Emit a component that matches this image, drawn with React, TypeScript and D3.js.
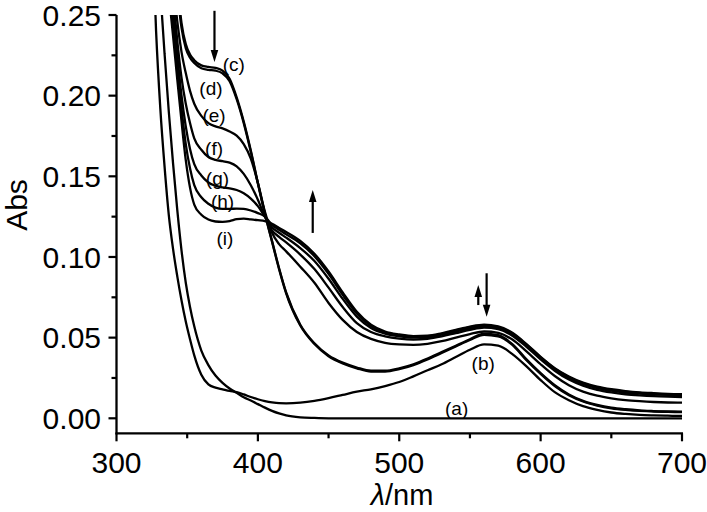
import React from 'react';
import * as d3 from 'd3';

const wavelengths = [325,328,331,334,337,340,343,346,349,352,355,360,365,370,375,380,385,390,395,400,405,410,415,420,430,440,450,460,470,480,490,500,510,520,530,540,550,560,570,580,590,600,610,620,630,640,650,660,670,680,690,700];

const seriesA = [0.36,0.31,0.265,0.226,0.19,0.158,0.129,0.104,0.084,0.069,0.057,0.042,0.033,0.0265,0.022,0.0185,0.0158,0.013,0.011,0.0088,0.0066,0.0046,0.003,0.0018,0.0006,0.0002,0,0,0,0,0,0,0,0,0,0,0,0,0,0,0,0,0,0,0,0,0,0,0,0,0,0];
const seriesB = [0.31,0.24,0.192,0.156,0.126,0.105,0.088,0.073,0.06,0.049,0.039,0.027,0.021,0.019,0.018,0.017,0.0162,0.0148,0.0132,0.0118,0.0107,0.0099,0.0094,0.0093,0.0097,0.0108,0.0125,0.0145,0.0165,0.018,0.02,0.0225,0.026,0.0298,0.0335,0.038,0.0425,0.0458,0.045,0.0398,0.0322,0.0237,0.0162,0.0112,0.0075,0.0052,0.0036,0.0027,0.0021,0.0018,0.0016,0.0015];
const seriesC = [0.5,0.45,0.4,0.36,0.33,0.3,0.27,0.245,0.232,0.2255,0.222,0.2188,0.2178,0.2172,0.2155,0.2105,0.199,0.184,0.166,0.146,0.127,0.11,0.093,0.078,0.058,0.0465,0.039,0.0345,0.0315,0.0295,0.0295,0.031,0.0335,0.037,0.041,0.045,0.049,0.0525,0.0515,0.046,0.0365,0.028,0.0205,0.0148,0.0108,0.0083,0.0066,0.0056,0.0049,0.0045,0.0042,0.0041];
const seriesD = [0.5,0.45,0.4,0.355,0.325,0.295,0.265,0.242,0.2295,0.2235,0.2203,0.217,0.216,0.2155,0.2138,0.209,0.1978,0.183,0.1652,0.1455,0.1265,0.1095,0.0925,0.0775,0.0575,0.046,0.0385,0.034,0.031,0.029,0.029,0.0305,0.033,0.0365,0.0405,0.0445,0.0485,0.0518,0.0508,0.0455,0.036,0.0275,0.02,0.0143,0.0104,0.0079,0.0062,0.0052,0.0046,0.0042,0.004,0.0038];
const seriesE = [0.45,0.4,0.36,0.33,0.3,0.272,0.246,0.227,0.214,0.203,0.195,0.1875,0.183,0.181,0.1797,0.1778,0.1752,0.17,0.161,0.146,0.128,0.115,0.108,0.1035,0.094,0.084,0.0715,0.061,0.0535,0.0492,0.0468,0.0458,0.0455,0.0462,0.0478,0.05,0.0522,0.0538,0.053,0.0488,0.0415,0.0335,0.0262,0.0205,0.0165,0.014,0.0124,0.0113,0.0106,0.0101,0.0098,0.0097];
const seriesF = [0.44,0.39,0.35,0.32,0.29,0.262,0.234,0.211,0.195,0.183,0.1735,0.1665,0.162,0.1602,0.1594,0.1585,0.1562,0.1515,0.1445,0.1355,0.125,0.1165,0.1125,0.109,0.1015,0.0925,0.081,0.069,0.059,0.0535,0.0508,0.0494,0.0488,0.0493,0.0508,0.0528,0.0548,0.0562,0.0553,0.0512,0.0443,0.0365,0.0295,0.024,0.0202,0.0176,0.016,0.0149,0.0142,0.0137,0.0134,0.0132];
const seriesG = [0.43,0.38,0.34,0.31,0.28,0.253,0.225,0.2,0.181,0.167,0.1575,0.1505,0.1462,0.1442,0.1432,0.1425,0.1415,0.1395,0.1362,0.1315,0.125,0.1185,0.115,0.112,0.1055,0.0975,0.0865,0.074,0.063,0.056,0.0525,0.0508,0.05,0.0503,0.0518,0.0538,0.0558,0.057,0.056,0.052,0.045,0.0372,0.0302,0.025,0.0212,0.0187,0.0171,0.016,0.0153,0.0148,0.0145,0.0143];
const seriesH = [0.42,0.37,0.33,0.3,0.272,0.245,0.218,0.192,0.17,0.155,0.1445,0.137,0.133,0.1306,0.1298,0.1298,0.13,0.1298,0.1288,0.1272,0.125,0.12,0.1168,0.114,0.1085,0.1005,0.0895,0.0765,0.065,0.0572,0.0533,0.0515,0.0506,0.0508,0.0523,0.0544,0.0564,0.0575,0.0565,0.0526,0.0456,0.0377,0.0307,0.0255,0.0217,0.0192,0.0176,0.0165,0.0157,0.0152,0.0149,0.0147];
const seriesI = [0.41,0.36,0.32,0.29,0.263,0.237,0.21,0.184,0.16,0.143,0.1325,0.1262,0.1232,0.122,0.1217,0.1222,0.1234,0.1238,0.1233,0.1228,0.1222,0.1205,0.118,0.1155,0.11,0.102,0.091,0.078,0.066,0.058,0.0538,0.052,0.051,0.0512,0.0527,0.0548,0.0568,0.058,0.057,0.053,0.046,0.0381,0.0311,0.0259,0.0221,0.0196,0.018,0.0169,0.0161,0.0156,0.0152,0.015];

const allSeries = [seriesA, seriesB, seriesC, seriesD, seriesE, seriesF, seriesG, seriesH, seriesI];

const curveLabels = ['(a)','(b)','(c)','(d)','(e)','(f)','(g)','(h)','(i)'];
const labelNm = [540.6, 559.4, 383, 366.8, 369, 369, 371.4, 375, 376.7];
const labelAbs = [0.0062, 0.034, 0.2196, 0.2048, 0.188, 0.1676, 0.149, 0.1347, 0.1118];

// arrows: [nm, fromAbs, toAbs]
const arrowNm = [369.3, 438.8, 555.9, 561.8];
const arrowFrom = [0.2526, 0.1149, 0.0702, 0.0899];
const arrowTo = [0.2209, 0.1415, 0.0826, 0.063];

const xTicks = [300, 400, 500, 600, 700];
const xMinorTicks = [350, 450, 550, 650];
const yTicks = [0, 0.05, 0.1, 0.15, 0.2, 0.25];
const yMinorTicks = [0.025, 0.075, 0.125, 0.175, 0.225];

const W = 707;
const H = 512;
const FONT = "'Liberation Sans', Arial, Helvetica, sans-serif";

export default function App() {
  const x = d3.scaleLinear().domain([300, 700]).range([116.5, 682]);
  const y = d3.scaleLinear().domain([-0.0093, 0.25]).range([433.3, 15]);
  const line = d3
    .line<number>()
    .x((_, i) => x(wavelengths[i]))
    .y((d) => y(d))
    .curve(d3.curveMonotoneX);
  const fmt = d3.format('.2f');
  const x0 = x(300);
  const yBase = y(-0.0093);

  return (
    <svg width={W} height={H} style={{ position: 'absolute', left: 0, top: 0, background: '#fff' }} fontFamily={FONT}>
      <defs>
        <clipPath id="plotClip">
          <rect x={x(300)} y={y(0.25)} width={x(700) - x(300) + 2} height={yBase - y(0.25)} />
        </clipPath>
      </defs>
      <rect x={0} y={0} width={W} height={H} fill="#fff" />
      <g clipPath="url(#plotClip)">
        {allSeries.map((s, k) => (
          <path key={k} d={line(s) || ''} fill="none" stroke="#000" strokeWidth={2.3} strokeLinejoin="round" />
        ))}
      </g>
      {/* axes */}
      <line x1={x0} x2={x0} y1={y(0.25)} y2={yBase + 1} stroke="#000" strokeWidth={2.3} />
      <line x1={x0 - 1} x2={x(700) + 1} y1={yBase} y2={yBase} stroke="#000" strokeWidth={2.3} />
      {yTicks.map((t) => (
        <g key={'y' + t}>
          <line x1={x0 - 8} x2={x0} y1={y(t)} y2={y(t)} stroke="#000" strokeWidth={2.2} />
          <text x={101} y={y(t)} dy="0.36em" textAnchor="end" fontSize={30}>
            {fmt(t)}
          </text>
        </g>
      ))}
      {yMinorTicks.map((t) => (
        <line key={'ym' + t} x1={x0 - 5} x2={x0} y1={y(t)} y2={y(t)} stroke="#000" strokeWidth={2.2} />
      ))}
      {xTicks.map((t) => (
        <g key={'x' + t}>
          <line x1={x(t)} x2={x(t)} y1={yBase} y2={yBase + 8} stroke="#000" strokeWidth={2.2} />
          <text x={x(t)} y={473} textAnchor="middle" fontSize={30}>
            {t}
          </text>
        </g>
      ))}
      {xMinorTicks.map((t) => (
        <line key={'xm' + t} x1={x(t)} x2={x(t)} y1={yBase} y2={yBase + 5} stroke="#000" strokeWidth={2.2} />
      ))}
      <text x={402} y={505} textAnchor="middle" fontSize={29}>
        <tspan fontStyle="italic">λ</tspan>/nm
      </text>
      <text transform={`translate(27,${205}) rotate(-90)`} textAnchor="middle" fontSize={30}>
        Abs
      </text>
      {/* curve labels */}
      {curveLabels.map((l, i) => (
        <text key={l} x={x(labelNm[i])} y={y(labelAbs[i])} dy="0.35em" textAnchor="middle" fontSize={19}>
          {l}
        </text>
      ))}
      {/* arrows */}
      {arrowNm.map((nm, i) => {
        const ax = x(nm);
        const yf = y(arrowFrom[i]);
        const yt = y(arrowTo[i]);
        const dir = yt > yf ? 1 : -1;
        const head = 12;
        const hw = 3.8;
        return (
          <g key={'a' + i}>
            <line x1={ax} x2={ax} y1={yf} y2={yt - dir * head * 0.7} stroke="#000" strokeWidth={2.2} />
            <polygon
              points={`${ax},${yt} ${ax - hw},${yt - dir * head} ${ax + hw},${yt - dir * head}`}
              fill="#000"
            />
          </g>
        );
      })}
    </svg>
  );
}
